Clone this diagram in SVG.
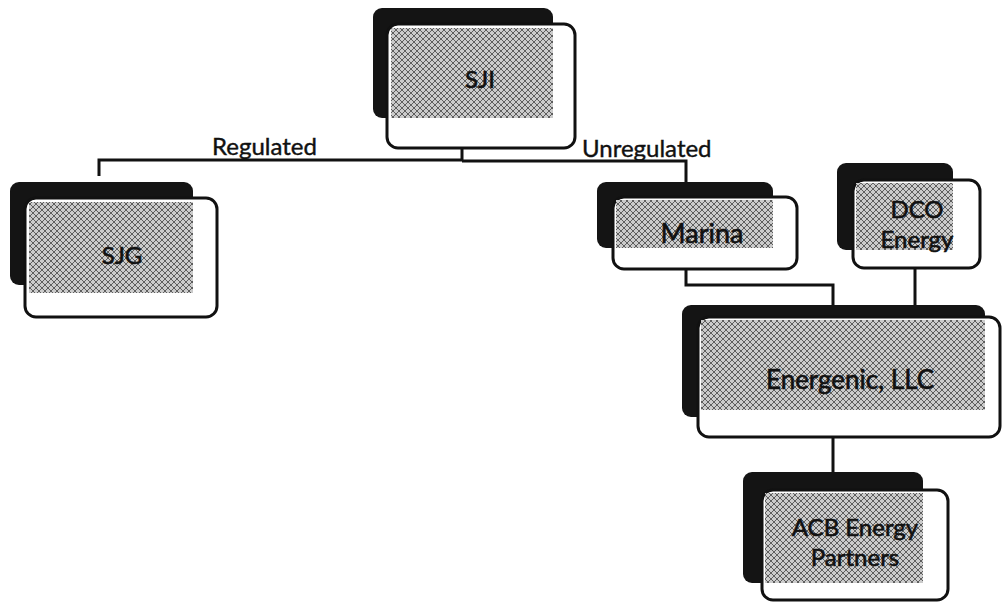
<svg xmlns="http://www.w3.org/2000/svg" width="1002" height="607" viewBox="0 0 1002 607">
<defs>
<pattern id="hatch" width="6" height="6" patternUnits="userSpaceOnUse">
<rect width="6" height="6" fill="#cbcbcb"/>
<path d="M0 0L6 6M6 0L0 6" stroke="#5e5e5e" stroke-width="1"/>
</pattern>
<style>
.back{fill:#141414;}
.front{fill:#ffffff;stroke:#111;stroke-width:3;}
.hatch{fill:url(#hatch);}
.t{font-family:Lato,"Liberation Sans",sans-serif;font-size:24px;fill:#111;stroke:#111;stroke-width:0.6;text-anchor:middle;}
.lab{font-family:Lato,"Liberation Sans",sans-serif;font-size:24px;fill:#111;stroke:#111;stroke-width:0.4;}
.conn{fill:none;stroke:#111;stroke-width:3;}
</style>
</defs>
<rect width="1002" height="607" fill="#ffffff"/>
<g id="connectors">
<path class="conn" d="M462 148V161"/>
<path class="conn" d="M462 160H99V176"/>
<path class="conn" d="M462 161H686V182"/>
<path class="conn" d="M686 269V285H833V305"/>
<path class="conn" d="M915 268V305"/>
<path class="conn" d="M833 437V472"/>
</g>
<g id="labels">
<text class="lab" x="212" y="155">Regulated</text>
<text class="lab" x="582" y="157">Unregulated</text>
</g>
<g id="SJI">
<rect class="back" x="373" y="8" width="180" height="110" rx="9"/>
<rect class="front" x="387" y="24" width="188" height="124" rx="11"/>
<rect class="hatch" x="391" y="28" width="162" height="90"/>
<text class="t" x="480" y="88">SJI</text>
</g>
<g id="SJG">
<rect class="back" x="10" y="182" width="183" height="103" rx="9"/>
<rect class="front" x="25" y="198" width="192" height="119" rx="11"/>
<rect class="hatch" x="29" y="202" width="164" height="91"/>
<text class="t" x="122" y="264">SJG</text>
</g>
<g id="Marina">
<rect class="back" x="597" y="182" width="176" height="66" rx="9"/>
<rect class="front" x="613" y="197" width="184" height="72" rx="11"/>
<rect class="hatch" x="616" y="200" width="157" height="48"/>
<text class="t" x="702" y="243" style="font-size:27px">Marina</text>
</g>
<g id="DCO">
<rect class="back" x="837" y="163" width="116" height="87" rx="9"/>
<rect class="front" x="853" y="180" width="127" height="88" rx="11"/>
<rect class="hatch" x="856" y="183" width="97" height="67"/>
<text class="t" x="917" y="218">DCO</text>
<text class="t" x="917" y="248">Energy</text>
</g>
<g id="Energenic">
<rect class="back" x="682" y="305" width="303" height="112" rx="9"/>
<rect class="front" x="698" y="317" width="302" height="120" rx="11"/>
<rect class="hatch" x="701" y="320" width="284" height="90"/>
<text class="t" x="850" y="389" style="font-size:26px">Energenic, LLC</text>
</g>
<g id="ACB">
<rect class="back" x="743" y="472" width="180" height="111" rx="9"/>
<rect class="front" x="762" y="490" width="186" height="110" rx="11"/>
<rect class="hatch" x="765" y="493" width="158" height="90"/>
<text class="t" x="855" y="536">ACB Energy</text>
<text class="t" x="855" y="566">Partners</text>
</g>
</svg>
